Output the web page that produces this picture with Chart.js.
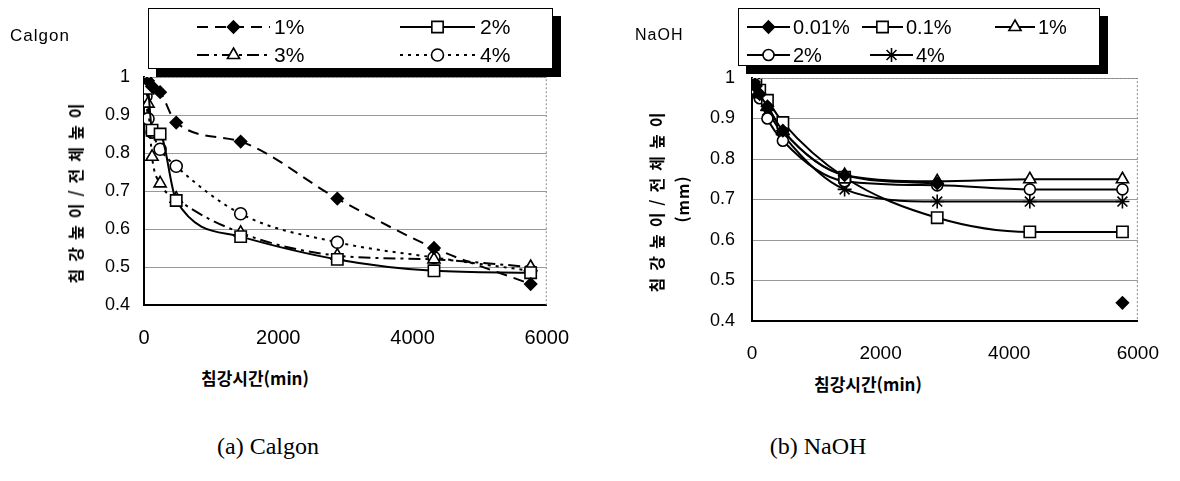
<!DOCTYPE html>
<html lang="ko">
<head>
<meta charset="UTF-8">
<title>침강높이 - Calgon / NaOH</title>
<script src="https://cdn.jsdelivr.net/npm/chart.js"></script>
<style>
    body {
        margin: 0;
        background: #fff;
        width: 1180px;
        height: 481px;
        position: relative;
        overflow: hidden;
        font-family: "Liberation Sans", Arial, sans-serif;
    }
    canvas { position: absolute; top: 0; }
    #calgonChart { left: 0; }
    #naohChart { left: 590px; }
    .lbl { position: absolute; white-space: nowrap; color: #000; }
    .tag { font-size: 17px; letter-spacing: 1px; }
    .ytitle {
        font: bold 16px "Noto Sans CJK KR", sans-serif;
        letter-spacing: 7px;
        text-align: center;
        line-height: 26px;
        transform: translate(-50%, -50%) rotate(-90deg);
    }
    .ytitle span { letter-spacing: 1px; }
    .xtitle {
        font: bold 17px "Noto Sans CJK KR", sans-serif;
        transform: translate(-50%, -50%);
    }
    .caption {
        font: 24px "Liberation Serif", serif;
        transform: translate(-50%, -50%);
    }
</style>
</head>
<body>

<canvas id="calgonChart" width="590" height="360"></canvas>
<canvas id="naohChart" width="590" height="370"></canvas>

<div class="lbl tag" style="left:10px; top:26px;">Calgon</div>
<div class="lbl tag" style="left:635px; top:26px; font-size:16px;">NaOH</div>

<div class="lbl ytitle" style="left:75px; top:190px;">침강높이/전체높이</div>
<div class="lbl ytitle" style="left:669px; top:199px;">침강높이/전체높이<br><span>(mm)</span></div>

<div class="lbl xtitle" style="left:255px; top:377px;">침강시간(min)</div>
<div class="lbl xtitle" style="left:868px; top:383px;">침강시간(min)</div>

<div class="lbl caption" style="left:268px; top:446px;">(a) Calgon</div>
<div class="lbl caption" style="left:818px; top:446px;">(b) NaOH</div>

<script>
    // sampling times (min)
    const times = [0, 30, 60, 120, 240, 480, 1440, 2880, 4320, 5760];

    // (a) Calgon, height ratio
    const calgonLabels = ['1%', '2%', '3%', '4%'];
    const calgon1 = [1.00, 1.00, 0.99, 0.975, 0.96, 0.88, 0.83, 0.68, 0.55, 0.455];
    const calgon2 = [1.00, 0.99, 0.97, 0.86, 0.85, 0.675, 0.58, 0.52, 0.49, 0.485];
    const calgon3 = [1.00, 0.97, 0.93, 0.79, 0.72, 0.68, 0.59, 0.53, 0.52, 0.50];
    const calgon4 = [1.00, 0.95, 0.89, 0.855, 0.81, 0.765, 0.64, 0.565, 0.525, 0.49];

    // (b) NaOH
    const naohLabels = ['0.01%', '0.1%', '1%', '2%', '4%'];
    const naoh001 = [1.00, 0.99, 0.98, 0.96, 0.93, 0.87, 0.76, 0.74, null, 0.445];
    const naoh01 = [1.00, 0.995, 0.985, 0.97, 0.945, 0.89, 0.755, 0.655, 0.62, 0.62];
    const naoh1 = [1.00, 0.99, 0.98, 0.96, 0.93, 0.87, 0.76, 0.745, 0.75, 0.75];
    const naoh2 = [1.00, 0.985, 0.97, 0.95, 0.90, 0.845, 0.745, 0.735, 0.725, 0.725];
    const naoh4 = [1.00, 0.99, 0.975, 0.955, 0.92, 0.86, 0.725, 0.695, 0.695, 0.695];

    const xTicks = [0, 2000, 4000, 6000];
    const yTicks = [0.4, 0.5, 0.6, 0.7, 0.8, 0.9, 1];

    function toXY(vals) {
        return times.map((t, i) => ({ x: t, y: vals[i] }));
    }

    // marker drawing for the boxed legend
    function drawMark(ctx, style, x, y, r, filled) {
        ctx.save();
        ctx.beginPath();
        if (style === 'rectRot') {
            ctx.moveTo(x, y - r); ctx.lineTo(x + r, y); ctx.lineTo(x, y + r); ctx.lineTo(x - r, y); ctx.closePath();
        } else if (style === 'rect') {
            const s = r * Math.SQRT1_2;
            ctx.rect(x - s, y - s, 2 * s, 2 * s);
        } else if (style === 'triangle') {
            ctx.moveTo(x, y - r); ctx.lineTo(x + r * 0.866, y + r * 0.5); ctx.lineTo(x - r * 0.866, y + r * 0.5); ctx.closePath();
        } else if (style === 'circle') {
            ctx.arc(x, y, r, 0, Math.PI * 2);
        } else if (style === 'star') {
            for (let a = 0; a < 4; a++) {
                const ang = a * Math.PI / 4;
                ctx.moveTo(x + Math.cos(ang) * r, y + Math.sin(ang) * r);
                ctx.lineTo(x - Math.cos(ang) * r, y - Math.sin(ang) * r);
            }
        }
        if (style !== 'star') {
            ctx.fillStyle = filled ? '#000' : '#fff';
            ctx.fill();
        }
        ctx.strokeStyle = '#000';
        ctx.lineWidth = 1.6;
        ctx.stroke();
        ctx.restore();
    }

    // boxed legend with drop shadow + dotted top/right frame
    const boxLegend = {
        id: 'boxLegend',
        afterDraw(chart, args, opts) {
            const ctx = chart.ctx;
            const a = chart.chartArea;
            ctx.save();
            ctx.strokeStyle = '#888';
            ctx.lineWidth = 1;
            ctx.setLineDash([2, 2]);
            ctx.beginPath();
            ctx.moveTo(a.left, a.top + 0.5);
            ctx.lineTo(a.right - 0.5, a.top + 0.5);
            ctx.lineTo(a.right - 0.5, a.bottom);
            ctx.stroke();
            ctx.setLineDash([]);

            const [bx, by, bw, bh] = opts.box;
            const sh = opts.shadow;
            ctx.fillStyle = '#000';
            ctx.fillRect(bx + sh, by + sh, bw, bh);
            ctx.fillStyle = '#fff';
            ctx.fillRect(bx, by, bw, bh);
            ctx.strokeStyle = '#000';
            ctx.lineWidth = 1;
            ctx.strokeRect(bx + 0.5, by + 0.5, bw - 1, bh - 1);

            ctx.font = opts.font;
            ctx.textBaseline = 'middle';
            ctx.fillStyle = '#000';
            opts.items.forEach(it => {
                const ds = chart.data.datasets[it.ds];
                ctx.strokeStyle = '#000';
                ctx.lineWidth = ds.borderWidth;
                ctx.setLineDash(ds.borderDash || []);
                ctx.beginPath();
                ctx.moveTo(it.x0, it.y);
                ctx.lineTo(it.x1, it.y);
                ctx.stroke();
                ctx.setLineDash([]);
                drawMark(ctx, ds.pointStyle, (it.x0 + it.x1) / 2, it.y, ds.pointRadius, ds.pointBackgroundColor === '#000');
                ctx.fillText(ds.label, it.tx, it.y + 1);
            });
            ctx.restore();
        }
    };

    function baseOptions(cfg) {
        return {
            responsive: false,
            animation: false,
            layout: { padding: { left: 0, right: cfg.padRight, top: cfg.padTop, bottom: 0 } },
            elements: { line: { cubicInterpolationMode: 'monotone' } },
            plugins: {
                legend: { display: false },
                tooltip: { enabled: false },
                boxLegend: cfg.legend
            },
            scales: {
                x: {
                    type: 'linear',
                    min: 0, max: 6000,
                    afterBuildTicks: s => { s.ticks = xTicks.map(v => ({ value: v })); },
                    afterFit: s => { s.height = cfg.xHeight; },
                    ticks: {
                        maxRotation: 0,
                        color: '#000',
                        padding: cfg.xPad,
                        font: { family: '"Liberation Sans", Arial, sans-serif', size: cfg.xFont },
                        callback: v => String(v)
                    },
                    grid: { drawTicks: false, color: 'transparent' },
                    border: { color: '#000', width: 2 }
                },
                y: {
                    min: 0.4, max: 1,
                    afterBuildTicks: s => { s.ticks = yTicks.map(v => ({ value: v })); },
                    afterFit: s => { s.width = cfg.yWidth; },
                    ticks: {
                        color: '#000',
                        padding: cfg.yPad,
                        font: { family: '"Liberation Sans", Arial, sans-serif', size: 18 },
                        callback: v => String(Math.round(v * 10) / 10)
                    },
                    grid: { drawTicks: false, color: '#999', lineWidth: 1 },
                    border: { color: '#000', width: 2 }
                }
            }
        };
    }

    function series(label, vals, style, radius, filled, dash) {
        return {
            label: label,
            data: toXY(vals),
            borderColor: '#000',
            borderWidth: 2,
            borderDash: dash,
            pointStyle: style,
            pointRadius: radius,
            pointBorderWidth: 1.6,
            pointBorderColor: '#000',
            pointBackgroundColor: filled ? '#000' : '#fff',
            spanGaps: false,
            fill: false
        };
    }

    new Chart(document.getElementById('calgonChart').getContext('2d'), {
        type: 'line',
        data: {
            datasets: [
                series(calgonLabels[0], calgon1, 'rectRot', 6, true, [11, 7]),
                series(calgonLabels[1], calgon2, 'rect', 8, false, []),
                series(calgonLabels[2], calgon3, 'triangle', 7, false, [12, 5, 3, 5]),
                series(calgonLabels[3], calgon4, 'circle', 6, false, [3, 5])
            ]
        },
        options: baseOptions({
            padRight: 28, padTop: 77, xHeight: 55, yWidth: 144, xPad: 21, yPad: 14, xFont: 20,
            legend: {
                box: [148, 8, 405, 61],
                shadow: 8,
                font: '21px "Liberation Sans", Arial, sans-serif',
                items: [
                    { ds: 0, x0: 197, x1: 270, y: 27, tx: 274 },
                    { ds: 1, x0: 400, x1: 475, y: 27, tx: 480 },
                    { ds: 2, x0: 197, x1: 270, y: 55, tx: 274 },
                    { ds: 3, x0: 400, x1: 475, y: 55, tx: 480 }
                ]
            }
        }),
        plugins: [boxLegend]
    });

    new Chart(document.getElementById('naohChart').getContext('2d'), {
        type: 'line',
        data: {
            datasets: [
                series(naohLabels[0], naoh001, 'rectRot', 6, true, []),
                series(naohLabels[1], naoh01, 'rect', 8, false, []),
                series(naohLabels[2], naoh1, 'triangle', 7, false, []),
                series(naohLabels[3], naoh2, 'circle', 5.5, false, []),
                series(naohLabels[4], naoh4, 'star', 7, false, [])
            ]
        },
        options: baseOptions({
            padRight: 33, padTop: 78, xHeight: 49, yWidth: 162, xPad: 21, yPad: 17, xFont: 19,
            legend: {
                box: [148, 8, 362, 58],
                shadow: 8,
                font: '20px "Liberation Sans", Arial, sans-serif',
                items: [
                    { ds: 0, x0: 157, x1: 200, y: 27, tx: 203 },
                    { ds: 1, x0: 272, x1: 313, y: 27, tx: 316 },
                    { ds: 2, x0: 405, x1: 445, y: 27, tx: 448 },
                    { ds: 3, x0: 157, x1: 200, y: 55, tx: 203 },
                    { ds: 4, x0: 280, x1: 323, y: 55, tx: 326 }
                ]
            }
        }),
        plugins: [boxLegend]
    });
</script>
</body>
</html>
